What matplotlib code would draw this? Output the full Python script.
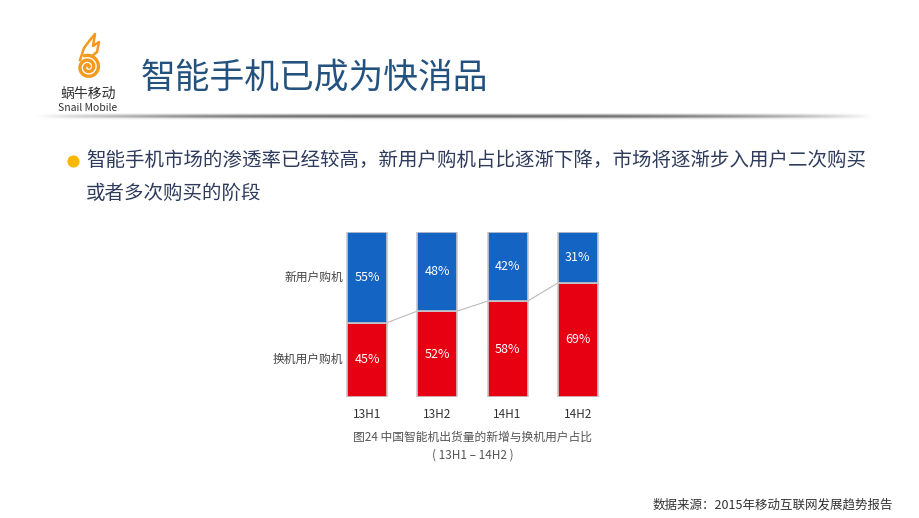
import matplotlib.pyplot as plt
import numpy as np

plt.rcParams['font.family'] = ['Noto Sans CJK SC', 'DejaVu Sans']

periods = ['13H1', '13H2', '14H1', '14H2']
replace_share = [45, 52, 58, 69]   # 换机用户购机
new_share = [55, 48, 42, 31]       # 新用户购机
series_names = ['换机用户购机', '新用户购机']

title = '智能手机已成为快消品'
bullet_lines = ['智能手机市场的渗透率已经较高，新用户购机占比逐渐下降，市场将逐渐步入用户二次购买',
                '或者多次购买的阶段']
caption = ['图24 中国智能机出货量的新增与换机用户占比', '( 13H1 – 14H2 )']
source = '数据来源：2015年移动互联网发展趋势报告'

W, H = 920, 518
fig = plt.figure(figsize=(W / 100, H / 100), dpi=100)
fig.patch.set_facecolor('white')


def px(x, y):
    return x / W, 1 - y / H


# overlay axes in pixel coordinates for decorations
deco = fig.add_axes([0, 0, 1, 1])
deco.set_xlim(0, W)
deco.set_ylim(H, 0)
deco.axis('off')

# header shadow line
band = fig.add_axes([35 / W, 1 - 121 / H, 840 / W, 8 / H])
xs = np.linspace(-1, 1, 400)
ys = np.linspace(-1, 1, 20)
XX, YY = np.meshgrid(xs, ys)
shade = np.clip(1 - np.abs(XX) ** 3, 0, 1) * np.exp(-((YY + 0.2) / 0.5) ** 2)
band.imshow(1 - 0.6 * shade, cmap='gray', vmin=0, vmax=1, aspect='auto')
band.axis('off')

# logo (spiral + flame)
orange = '#F39A1E'
t = np.linspace(0, 4.6 * np.pi, 400)
r = 1.0 + 0.75 * t
deco.plot(88 + r * np.cos(t), 67 - r * np.sin(t), color=orange, lw=2.4, solid_capstyle='round')
deco.plot([80, 84, 90, 95, 93, 99, 97, 92],
          [60, 48, 40, 34, 46, 42, 52, 56], color=orange, lw=1.8)
fig.text(*px(88, 94), '蜗牛移动', ha='center', va='center', fontsize=10, color='#333333')
fig.text(*px(88, 108), 'Snail Mobile', ha='center', va='center', fontsize=7.5, color='#333333')

fig.text(*px(141, 78), title, ha='left', va='center', fontsize=25, color='#24527F')

# bullet
deco.scatter([73], [161], s=60, color='#F9B700', zorder=3)
fig.text(*px(86, 160), bullet_lines[0], ha='left', va='center', fontsize=14, color='#2E3B5C')
fig.text(*px(86, 193), bullet_lines[1], ha='left', va='center', fontsize=14, color='#2E3B5C')

# chart
ax = fig.add_axes([332 / W, 1 - 397 / H, 281 / W, 165.3 / H])
x = np.arange(len(periods))
bw = 0.57
ax.bar(x, replace_share, bw, color='#E60012', edgecolor='#C8C8C8', linewidth=1.2)
ax.bar(x, new_share, bw, bottom=replace_share, color='#1464C3', edgecolor='#C8C8C8', linewidth=1.2)
for i in range(len(x) - 1):
    ax.plot([x[i] + bw / 2, x[i + 1] - bw / 2], [replace_share[i], replace_share[i + 1]],
            color='#BBBBBB', lw=0.8, zorder=0)
for i in range(len(x)):
    ax.text(x[i], replace_share[i] / 2, f'{replace_share[i]}%', ha='center', va='center',
            color='white', fontsize=9)
    ax.text(x[i], replace_share[i] + new_share[i] / 2, f'{new_share[i]}%', ha='center',
            va='center', color='white', fontsize=9)
    ax.text(x[i], -10.5, periods[i], ha='center', va='center', color='#333333', fontsize=8.5)
ax.text(-0.34, replace_share[0] / 2, series_names[0], ha='right', va='center',
        color='#444444', fontsize=8.5)
ax.text(-0.34, replace_share[0] + new_share[0] / 2, series_names[1], ha='right', va='center',
        color='#444444', fontsize=8.5)
ax.set_xlim(-0.5, 3.5)
ax.set_ylim(0, 100)
ax.axis('off')

fig.text(*px(473, 437), caption[0], ha='center', va='center', fontsize=8.5, color='#555555')
fig.text(*px(473, 455), caption[1], ha='center', va='center', fontsize=8.5, color='#555555')

fig.text(*px(893, 505), source, ha='right', va='center', fontsize=9, color='#333333')

fig.savefig('out.png', dpi=100)
